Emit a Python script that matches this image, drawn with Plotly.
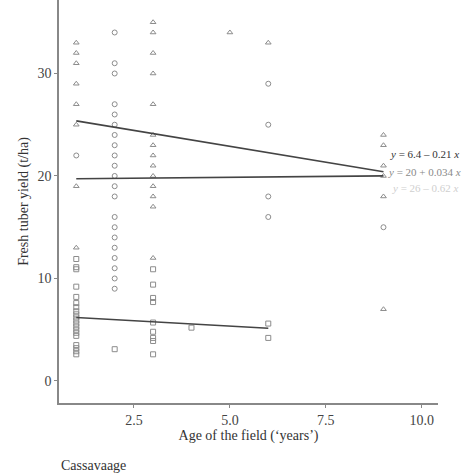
import plotly.graph_objects as go

# ---- data ----
tri_x = [1]*8 + [3]*14 + [5] + [6] + [9]*6
tri_y = [33, 32, 31, 29, 27, 25, 19, 13,
         35, 34, 32, 30, 27, 24, 23, 22, 21, 20, 19, 18, 17, 12,
         34,
         33,
         24, 23, 21, 20, 18, 7]

circ_x = [1] + [2]*21 + [6]*4 + [9]
circ_y = [22,
          34, 31, 30, 27, 26, 25, 24, 23, 22, 21, 20, 19, 18, 16, 15, 14, 13, 12, 11, 10, 9,
          29, 25, 18, 16,
          15]

sq_x = [1]*20 + [2] + [3]*9 + [4] + [6]*2
sq_y = [11.9, 11.1, 10.9, 9.2, 8.2, 7.6, 7.2, 6.8, 6.5, 6.2, 5.9, 5.6, 5.3, 5.0, 4.7, 4.4,
        3.5, 3.2, 2.9, 2.6,
        3.1,
        10.9, 9.4, 8.1, 7.7, 5.7, 4.8, 4.2, 3.9, 2.6,
        5.2,
        5.6, 4.2]

# regression coefficients (intercept, slope) and labels
fits = {
    "sq": (6.4, -0.21),
    "circ": (19.7, 0.034),
    "tri": (26.0, -0.62),
}
eq_labels = ["<i>y</i> = 6.4 – 0.21 <i>x</i>",
             "<i>y</i> = 20 + 0.034 <i>x</i>",
             "<i>y</i> = 26 – 0.62 <i>x</i>"]
eq_label_y = [22.1, 20.4, 18.8]
eq_label_x = [9.12, 9.07, 9.17]

x_ticks = [2.5, 5.0, 7.5, 10.0]
y_ticks = [0, 10, 20, 30]

# ---- style ----
FONT = "Liberation Serif"
mk_col = "#8c8c8c"
line_col = "#444444"
label_cols = ["#333333", "#8a8a8a", "#cfcfcf"]

fig = go.Figure()

def add_points(xs, ys, sym):
    fig.add_trace(go.Scatter(x=xs, y=ys, mode="markers",
                             marker=dict(symbol=sym, size=5, color=mk_col,
                                         line=dict(width=1, color=mk_col)),
                             showlegend=False, cliponaxis=False))

add_points(tri_x, tri_y, "triangle-up-open")
add_points(circ_x, circ_y, "circle-open")
add_points(sq_x, sq_y, "square-open")

for key, xs in (("tri", tri_x), ("circ", circ_x), ("sq", sq_x)):
    a, b = fits[key]
    x0, x1 = min(xs), max(xs)
    fig.add_trace(go.Scatter(x=[x0, x1], y=[a + b*x0, a + b*x1], mode="lines",
                             line=dict(color=line_col, width=1.6),
                             showlegend=False))

for txt, xx, yy, col in zip(eq_labels, eq_label_x, eq_label_y, label_cols):
    fig.add_annotation(x=xx, y=yy, text=txt, showarrow=False,
                       xanchor="left", yanchor="middle",
                       font=dict(family=FONT, size=11, color=col))

fig.add_annotation(x=0, y=-0.154, xref="paper", yref="paper", text="Cassavaage",
                   showarrow=False, xanchor="left", yanchor="middle",
                   font=dict(family=FONT, size=14, color="#333333"))

fig.update_layout(
    width=474, height=474,
    margin=dict(l=59, r=36, t=0, b=71, autoexpand=False),
    paper_bgcolor="white", plot_bgcolor="white",
    font=dict(family=FONT, size=14, color="#444444"),
    xaxis=dict(range=[0.55, 10.42], tickvals=x_ticks,
               ticktext=[f"{v:.1f}" for v in x_ticks],
               showgrid=False, zeroline=False, showline=True,
               linecolor="#888888", linewidth=1.5, automargin=False,
               ticks="outside", ticklen=3, tickcolor="#888888",
               title=dict(text="Age of the field (‘years’)",
                          font=dict(family=FONT, size=14, color="#333333"),
                          standoff=4)),
    yaxis=dict(range=[-2.15, 37.17], tickvals=y_ticks,
               showgrid=False, zeroline=False, showline=True,
               linecolor="#888888", linewidth=1.5, automargin=False,
               ticks="outside", ticklen=3, tickcolor="#888888",
               title=dict(text="Fresh tuber yield (t/ha)",
                          font=dict(family=FONT, size=14, color="#333333"),
                          standoff=6)),
)

fig.write_html("out.html", config={"displayModeBar": False},
               post_script="document.body.style.margin='0';document.body.style.padding='0';")
